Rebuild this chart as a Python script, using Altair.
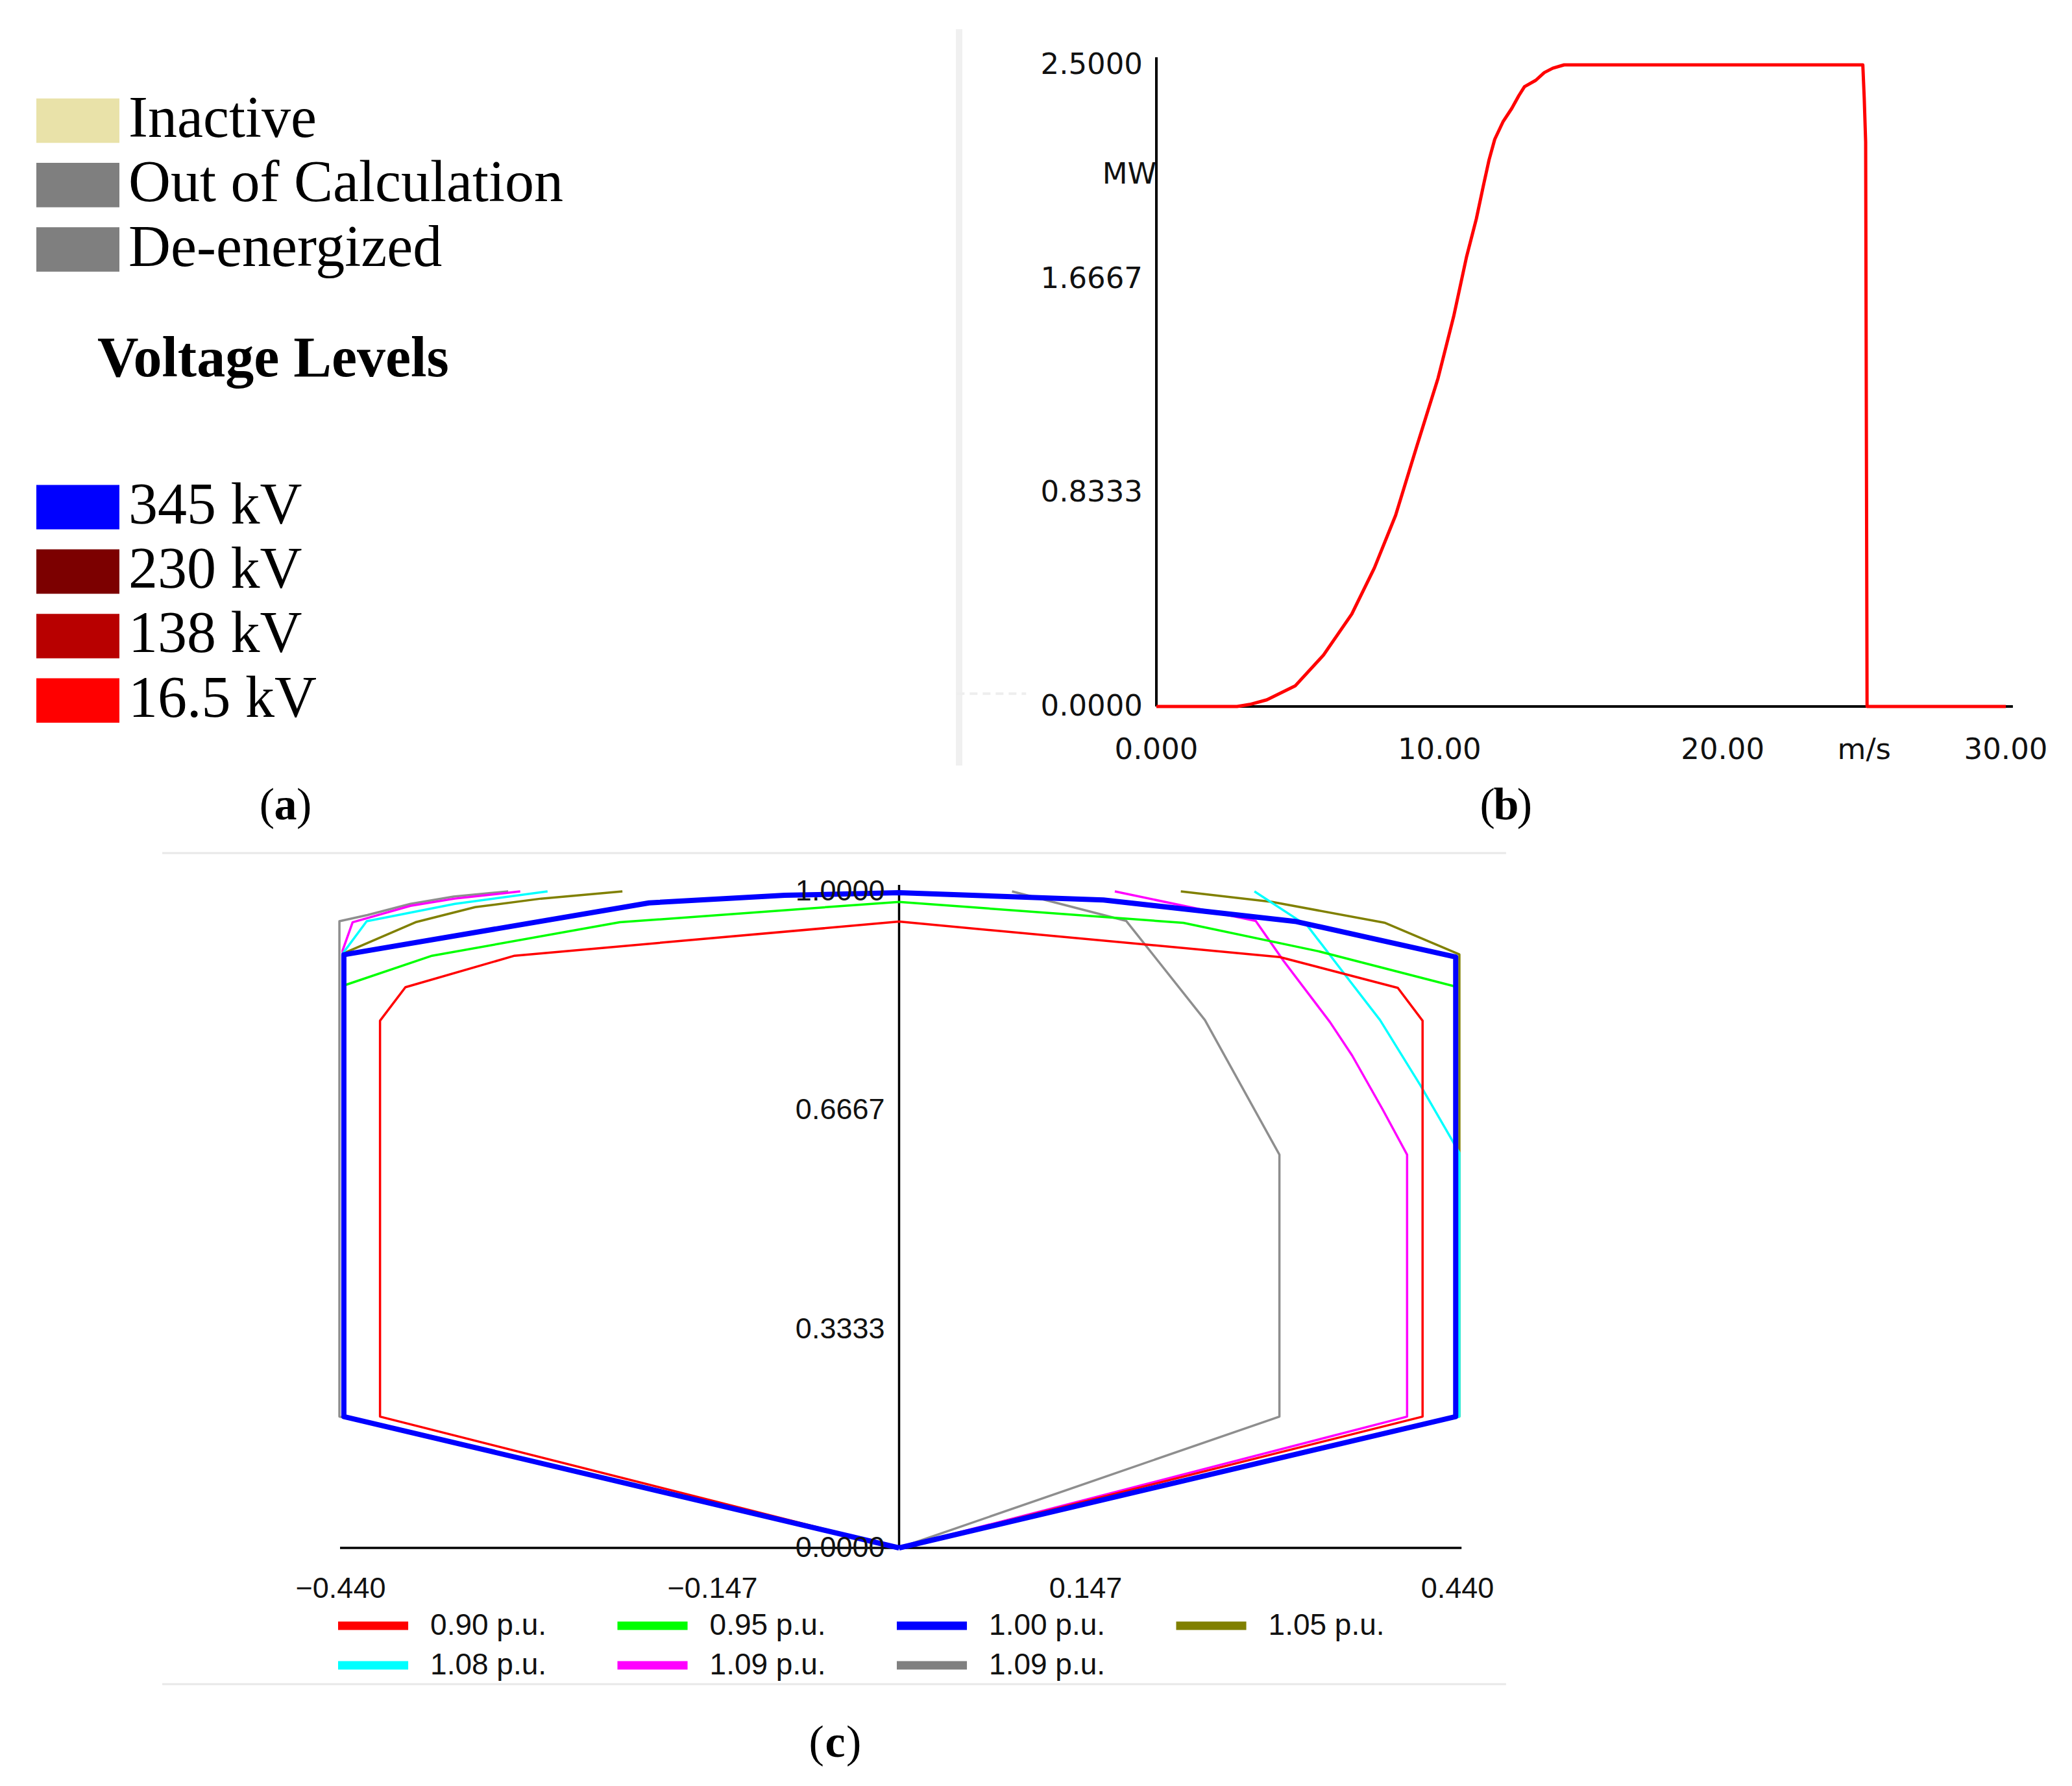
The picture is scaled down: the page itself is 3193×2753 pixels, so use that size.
import altair as alt
import pandas as pd

W, H = 3193, 2753

# ---------------- Panel (a): colour legend ----------------
status_labels = ["Inactive", "Out of Calculation", "De-energized"]
status_colors = ["#e9e2a9", "#7f7f7f", "#7f7f7f"]
level_title = "Voltage Levels"
level_labels = ["345 kV", "230 kV", "138 kV", "16.5 kV"]
level_colors = ["#0000ff", "#7c0000", "#b80000", "#ff0000"]
panel_letters = ["a", "b", "c"]

# ---------------- Panel (b): wind turbine power curve ----------------
wind_speed = [0.0, 2.85, 3.3, 3.9, 4.9, 5.9, 6.9, 7.7, 8.45, 9.2,
              9.95, 10.5, 10.95, 11.3, 11.55, 11.75, 11.95, 12.25, 12.55, 12.8,
              13.0, 13.4, 13.7, 14.0, 14.4, 24.95, 25.0, 25.05, 25.1, 30.0]
power_mw = [0.0, 0.0, 0.008, 0.026, 0.08, 0.2, 0.36, 0.54, 0.745, 1.015,
            1.28, 1.52, 1.75, 1.9, 2.03, 2.13, 2.21, 2.28, 2.33, 2.38,
            2.415, 2.44, 2.47, 2.487, 2.5, 2.5, 2.37, 2.2, 0.0, 0.0]
b_ytick_values = [0.0, 0.8333, 1.6667, 2.5]
b_ytick_labels = ["0.0000", "0.8333", "1.6667", "2.5000"]
b_xtick_values = [0, 10, 20, 30]
b_xtick_labels = ["0.000", "10.00", "20.00", "30.00"]
b_y_unit = "MW"
b_x_unit = "m/s"

# ---------------- Panel (c): capability curves ----------------
pu_labels = ["0.90 p.u.", "0.95 p.u.", "1.00 p.u.", "1.05 p.u.",
             "1.08 p.u.", "1.09 p.u.", "1.09 p.u."]
pu_colors = ["#ff0000", "#00ff00", "#0000ff", "#808000",
             "#00ffff", "#ff00ff", "#808080"]

q_090 = [0.0, -0.409, -0.409, -0.389, -0.303, 0.0, 0.300, 0.393, 0.4125, 0.4125, 0.0]
p_090 = [0.0, 0.200, 0.803, 0.854, 0.902, 0.954, 0.900, 0.853, 0.803, 0.200, 0.0]
q_095 = [0.0, -0.4385, -0.4385, -0.368, -0.220, 0.0, 0.224, 0.330, 0.4385, 0.4385, 0.0]
p_095 = [0.0, 0.200, 0.856, 0.902, 0.953, 0.984, 0.952, 0.909, 0.855, 0.200, 0.0]
q_100 = [0.0, -0.4375, -0.4375, -0.197, -0.090, 0.0, 0.161, 0.313, 0.4386, 0.4386, 0.0]
p_100 = [0.0, 0.200, 0.9035, 0.9825, 0.994, 0.998, 0.987, 0.954, 0.900, 0.200, 0.0]
q_105 = [-0.218, -0.282, -0.334, -0.381, -0.4385, -0.4385, 0.0, 0.4415, 0.4415, 0.383, 0.294, 0.222]
p_105 = [1.0, 0.989, 0.976, 0.953, 0.905, 0.200, 0.0, 0.200, 0.904, 0.952, 0.984, 1.0]
q_108 = [-0.277, -0.350, -0.4195, -0.4385, -0.4385, 0.0, 0.4415, 0.4415, 0.411, 0.379, 0.351, 0.322, 0.280]
p_108 = [1.0, 0.981, 0.9545, 0.905, 0.200, 0.0, 0.200, 0.602, 0.704, 0.804, 0.874, 0.947, 1.0]
q_109a = [-0.2985, -0.350, -0.385, -0.4306, -0.4385, -0.4385, 0.0, 0.4003, 0.4003, 0.381, 0.357, 0.3395, 0.303, 0.281, 0.170]
p_109a = [1.0, 0.989, 0.978, 0.953, 0.910, 0.200, 0.0, 0.200, 0.599, 0.668, 0.750, 0.801, 0.894, 0.955, 1.0]
q_109b = [-0.308, -0.351, -0.385, -0.419, -0.441, -0.441, 0.0, 0.2997, 0.2997, 0.241, 0.179, 0.089]
p_109b = [1.0, 0.992, 0.981, 0.964, 0.9545, 0.200, 0.0, 0.200, 0.599, 0.804, 0.955, 1.0]

c_ytick_values = [0.0, 0.3333, 0.6667, 1.0]
c_ytick_labels = ["0.0000", "0.3333", "0.6667", "1.0000"]
c_xtick_values = [-0.44, -0.147, 0.147, 0.44]
c_xtick_labels = ["\u22120.440", "\u22120.147", "0.147", "0.440"]


# ---------------- helpers ----------------
def sc(domain, rng):
    return alt.Scale(domain=domain, range=rng, nice=False, zero=False)


A_X = sc([0, 1], [56, 184])
A_Y = sc([0, 9], [186, 1079.7])
B_X = sc([0, 30], [1782, 3091])
B_Y = sc([0, 2.5], [1089, 100])
C_X = sc([-0.44, 0.44], [525, 2246])
C_Y = sc([0, 1], [2386, 1374])
L_X = sc([0, 4], [521, 2243])
L_Y = sc([0, 1], [2506, 2567])


def qx(f, s):
    return alt.X(f, type="quantitative", scale=s, axis=None)


def qy(f, s):
    return alt.Y(f, type="quantitative", scale=s, axis=None)


def dX(v, s):
    return alt.XDatum(v, type="quantitative", scale=s, axis=None)


def dY(v, s):
    return alt.YDatum(v, type="quantitative", scale=s, axis=None)


ONE = pd.DataFrame({"k": [0]})
layers = []


def panel_label(letter, xv, yv, XS, YS):
    enc = dict(x=dX(xv, XS), y=dY(yv, YS))
    common = dict(font="Liberation Serif", fontSize=70, baseline="alphabetic", color="#000000")
    return [
        alt.Chart(ONE).mark_text(text="(", align="right", dx=-17, **common).encode(**enc),
        alt.Chart(ONE).mark_text(text=letter, align="center", fontWeight="bold", **common).encode(**enc),
        alt.Chart(ONE).mark_text(text=")", align="left", dx=17, **common).encode(**enc),
    ]


# ---------------- Panel (a) ----------------
leg_a = pd.DataFrame({
    "label": status_labels + level_labels,
    "color": status_colors + level_colors,
    "row": list(range(len(status_labels))) + list(range(6, 6 + len(level_labels))),
})
layers.append(
    alt.Chart(leg_a).transform_calculate(
        x0="0", x1="1", top="datum.row - 0.345", bot="datum.row + 0.345"
    ).mark_rect().encode(
        x=qx("x0", A_X), x2=alt.X2("x1"),
        y=qy("top", A_Y), y2=alt.Y2("bot"),
        color=alt.Color("color:N", scale=None),
    )
)
layers.append(
    alt.Chart(leg_a).mark_text(
        align="left", baseline="alphabetic", dy=25,
        font="Liberation Serif", fontSize=90, color="#000000",
    ).encode(x=dX(1.11, A_X), y=qy("row", A_Y), text="label:N")
)
layers.append(
    alt.Chart(ONE).mark_text(
        text=level_title, align="left", baseline="alphabetic",
        font="Liberation Serif", fontSize=88, fontWeight="bold", color="#000000",
    ).encode(x=dX(0.734, A_X), y=dY(3.968, A_Y))
)
layers += panel_label(panel_letters[0], 3.0, 10.846, A_X, A_Y)

# ---------------- Panel (b) ----------------
# faint separator between (a) and (b)
layers.append(
    alt.Chart(ONE).mark_rule(color="#f0f0f0", strokeWidth=10).encode(
        x=dX(-6.968, B_X), y=dY(-0.23, B_Y), y2=alt.Y2Datum(2.639))
)
layers.append(
    alt.Chart(ONE).mark_rule(color="#eeeeee", strokeWidth=4, strokeDash=[12, 8]).encode(
        x=dX(-7.05, B_X), x2=alt.X2Datum(-4.6), y=dY(0.05, B_Y))
)
# axis lines
layers.append(
    alt.Chart(ONE).mark_rule(color="#000000", strokeWidth=4).encode(
        x=dX(0, B_X), y=dY(0, B_Y), y2=alt.Y2Datum(2.53))
)
layers.append(
    alt.Chart(ONE).mark_rule(color="#000000", strokeWidth=4).encode(
        x=dX(0, B_X), x2=alt.X2Datum(30.25), y=dY(0, B_Y))
)
b_font = dict(font="DejaVu Sans", fontSize=45, color="#111111")
layers.append(
    alt.Chart(pd.DataFrame({"v": b_ytick_values, "lab": b_ytick_labels})).mark_text(
        align="right", baseline="middle", dx=-21, **b_font
    ).encode(x=dX(0, B_X), y=qy("v", B_Y), text="lab:N")
)
layers.append(
    alt.Chart(pd.DataFrame({"v": b_xtick_values, "lab": b_xtick_labels})).mark_text(
        align="center", baseline="middle", dy=67, **b_font
    ).encode(x=qx("v", B_X), y=dY(0, B_Y), text="lab:N")
)
layers.append(
    alt.Chart(ONE).mark_text(text=b_y_unit, align="right", baseline="middle", **b_font).encode(
        x=dX(0, B_X), y=dY(2.0735, B_Y))
)
layers.append(
    alt.Chart(ONE).mark_text(text=b_x_unit, align="center", baseline="middle", dy=67, **b_font).encode(
        x=dX(25.0, B_X), y=dY(0, B_Y))
)
df_b = pd.DataFrame({"ws": wind_speed, "p": power_mw, "i": range(len(wind_speed))})
layers.append(
    alt.Chart(df_b).mark_line(color="#ff0000", strokeWidth=5, strokeJoin="round").encode(
        x=qx("ws", B_X), y=qy("p", B_Y), order="i:Q")
)
layers += panel_label(panel_letters[1], 12.35, -0.4398, B_X, B_Y)

# ---------------- Panel (c) ----------------
# frame lines
for yv in (1.0583, -0.2075):
    layers.append(
        alt.Chart(ONE).mark_rule(color="#e8e8e8", strokeWidth=3).encode(
            x=dX(-0.5806, C_X), x2=alt.X2Datum(0.4783), y=dY(yv, C_Y))
    )
# axes
layers.append(
    alt.Chart(ONE).mark_rule(color="#000000", strokeWidth=3.5).encode(
        x=dX(0, C_X), y=dY(0, C_Y), y2=alt.Y2Datum(1.0099))
)
layers.append(
    alt.Chart(ONE).mark_rule(color="#000000", strokeWidth=3.5).encode(
        x=dX(-0.4405, C_X), x2=alt.X2Datum(0.4432), y=dY(0, C_Y))
)

series = [
    (q_109b, p_109b, "#8e8e8e", 3.5),
    (q_105, p_105, pu_colors[3], 3.5),
    (q_109a, p_109a, pu_colors[5], 3.5),
    (q_108, p_108, pu_colors[4], 3.5),
    (q_090, p_090, pu_colors[0], 3.5),
    (q_095, p_095, pu_colors[1], 3.5),
    (q_100, p_100, pu_colors[2], 8),
]
for q, p, col, w in series:
    df = pd.DataFrame({"q": q, "p": p, "i": range(len(q))})
    layers.append(
        alt.Chart(df).mark_line(color=col, strokeWidth=w, strokeJoin="round").encode(
            x=qx("q", C_X), y=qy("p", C_Y), order="i:Q")
    )

c_font = dict(font="Liberation Sans", fontSize=45, color="#111111")
layers.append(
    alt.Chart(pd.DataFrame({"v": c_ytick_values, "lab": c_ytick_labels})).mark_text(
        align="right", baseline="middle", dx=-22, **c_font
    ).encode(x=dX(0, C_X), y=qy("v", C_Y), text="lab:N")
)
layers.append(
    alt.Chart(pd.DataFrame({"v": c_xtick_values, "lab": c_xtick_labels})).mark_text(
        align="center", baseline="middle", dy=63, **c_font
    ).encode(x=qx("v", C_X), y=dY(0, C_Y), text="lab:N")
)

# legend of panel (c)
leg_c = pd.DataFrame({"label": pu_labels, "color": pu_colors, "idx": range(len(pu_labels))})
leg_c_base = alt.Chart(leg_c).transform_calculate(
    col="datum.idx % 4", row="floor(datum.idx / 4)",
    col_end="datum.idx % 4 + 0.251", col_txt="datum.idx % 4 + 0.33",
)
layers.append(
    leg_c_base.mark_rule(strokeWidth=13).encode(
        x=qx("col", L_X), x2=alt.X2("col_end"), y=qy("row", L_Y),
        color=alt.Color("color:N", scale=None))
)
layers.append(
    leg_c_base.mark_text(align="left", baseline="middle", font="Liberation Sans",
                         fontSize=46, color="#111111").encode(
        x=qx("col_txt", L_X), y=qy("row", L_Y), text="label:N")
)
layers += panel_label(panel_letters[2], -0.0504, -0.3182, C_X, C_Y)

chart = alt.layer(*layers).resolve_scale(
    x="independent", y="independent", color="independent"
).properties(
    width=W, height=H, padding=0,
    autosize=alt.AutoSizeParams(type="none"),
    background="#ffffff",
).configure_view(strokeWidth=0)

chart.save("out.html", embed_options={"renderer": "svg", "actions": False})
